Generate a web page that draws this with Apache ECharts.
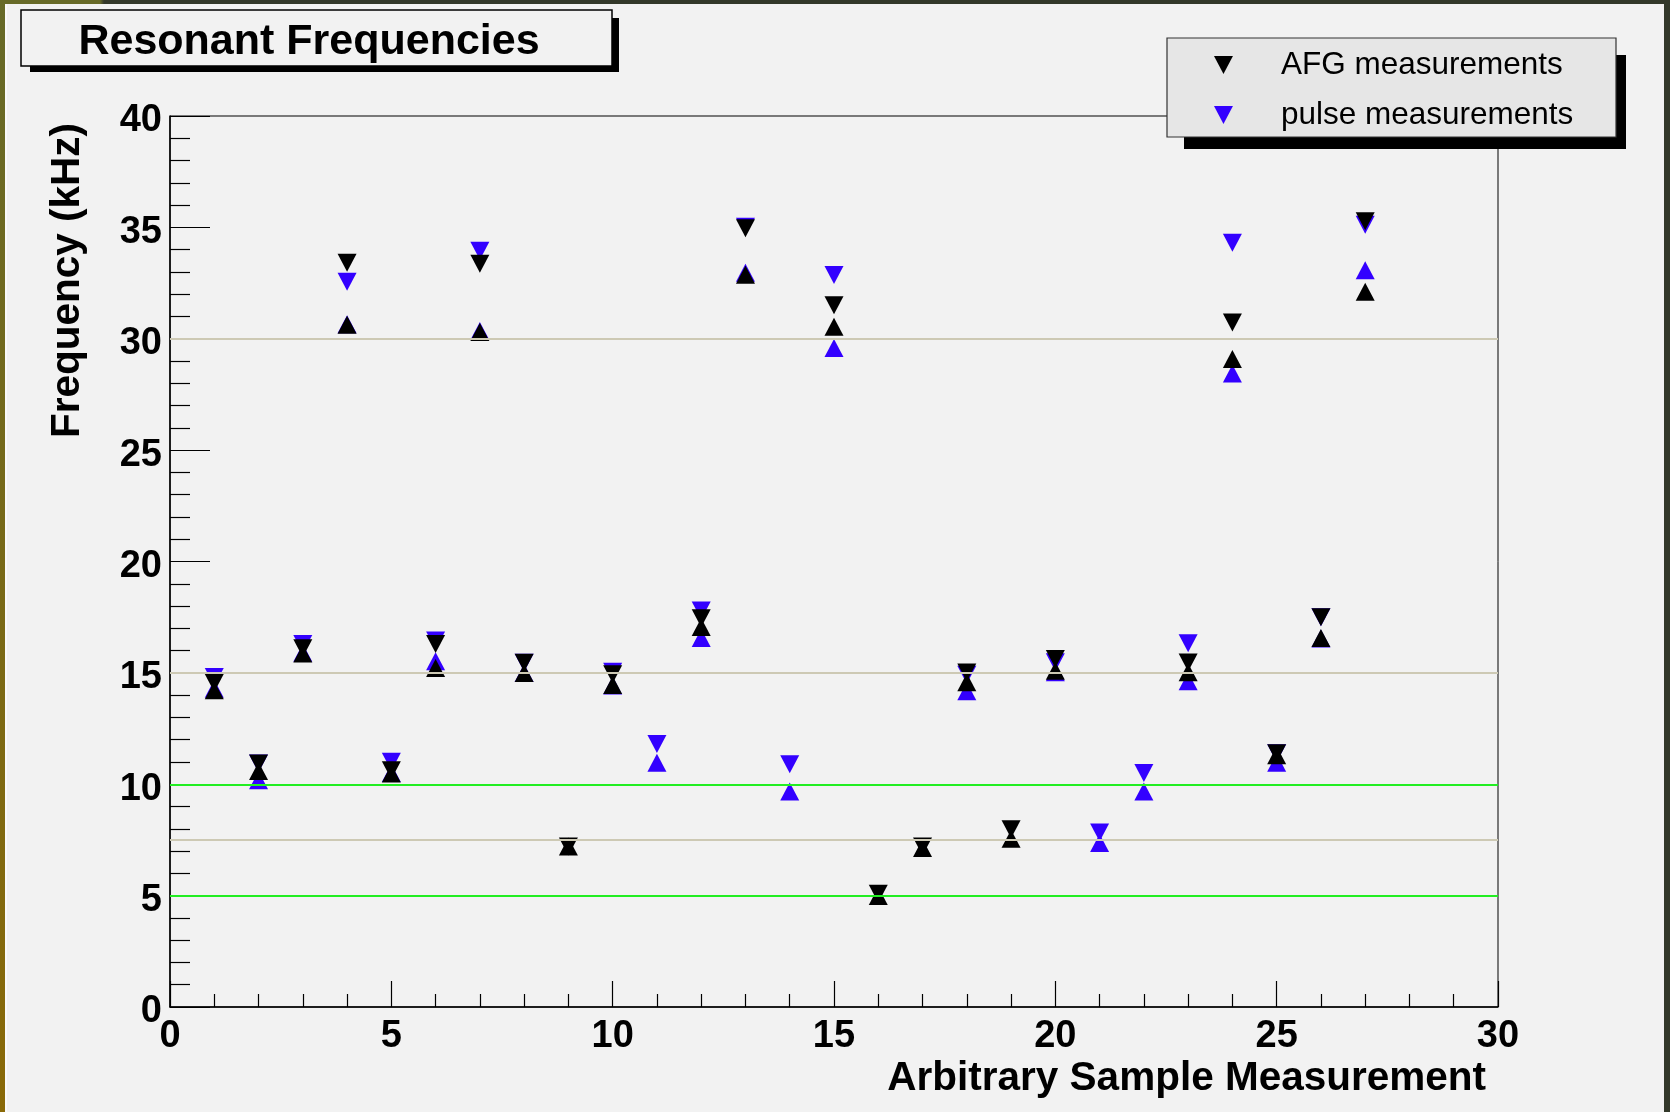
<!DOCTYPE html>
<html><head><meta charset="utf-8">
<script src="https://cdn.jsdelivr.net/npm/echarts@6/dist/echarts.min.js"></script>
<style>
html,body{margin:0;padding:0;background:#f2f2f2;}
#wrap{position:relative;width:1670px;height:1112px;overflow:hidden;}
#chart{position:absolute;left:0;top:0;width:1670px;height:1112px;}
.b{position:absolute;z-index:5;}
</style></head><body>
<div id="wrap"><div id="chart"></div>
<div class="b" style="left:0;top:0;width:1670px;height:4px;background:linear-gradient(90deg,#676a28 0,#676a28 100px,#33382a 104px,#33382a 100%);"></div>
<div class="b" style="left:0;top:0;width:5px;height:1112px;background:linear-gradient(#676a28,#8a6a08);"></div>
<div class="b" style="left:5px;top:4px;width:2px;height:1108px;background:#fafafa;"></div>
<div class="b" style="right:0;top:0;width:6px;height:1112px;background:#33382a;"></div>
</div>
<script>
const samples   = [1,2,3,4,5,6,7,8,9,10,11,12,13,14,15,16,17,18,19,20,21,22,23,24,25,26,27];
const afgHigh   = [14.55,10.93,16.10,33.41,10.63,16.30,33.37,15.45,7.21,14.94,null,17.45,34.96,null,31.50,5.08,7.20,15.02,7.98,15.62,null,null,15.47,30.73,11.39,17.50,35.28];
const afgLow    = [14.22,10.60,15.87,30.63,10.48,15.22,30.30,15.00,7.21,14.46,null,17.06,32.87,null,30.54,4.98,7.14,14.58,7.55,15.10,null,null,15.03,29.09,11.30,16.57,32.11];
const pulseHigh = [14.82,10.93,16.30,32.56,11.01,16.45,33.95,15.45,null,15.05,11.81,17.80,35.03,10.90,32.86,null,null,14.92,null,15.48,7.83,10.50,16.33,34.31,11.39,17.50,35.12];
const pulseLow  = [14.29,10.18,15.90,30.65,10.50,15.52,30.35,15.00,null,14.43,10.96,16.57,32.96,9.67,29.58,null,null,14.17,null,15.03,7.36,9.68,14.62,28.44,10.96,16.54,33.08];
const refLinesTan   = [30, 15, 7.5];
const refLinesGreen = [10, 5];
const xTicks = [0,5,10,15,20,25,30];
const yTicks = [0,5,10,15,20,25,30,35,40];

const FONT = 'Liberation Sans, Arial, Helvetica, sans-serif';
const BLUE = '#3300ff';
function pairs(arr){ return samples.map((x,i)=> arr[i]==null ? null : [x, arr[i]]).filter(Boolean); }
const downIcon = 'path://M0,0L20,0L10,19Z';

const chart = echarts.init(document.getElementById('chart'), null, {renderer:'canvas'});
const axisCommon = {
  type:'value',
  axisLine:{show:true, onZero:false, lineStyle:{color:'#000', width:1.5}},
  splitLine:{show:false}, minorSplitLine:{show:false},
};
const markLineData = refLinesTan.map(v=>({yAxis:v, lineStyle:{color:'#cdc9b4', width:2, type:'solid'}}))
  .concat(refLinesGreen.map(v=>({yAxis:v, lineStyle:{color:'#22ee22', width:2, type:'solid'}})));

chart.setOption({
  backgroundColor:'#f2f2f2',
  animation:false,
  grid:{left:170, top:116, width:1328, height:891, show:true, borderColor:'#000', borderWidth:1, backgroundColor:'transparent'},
  xAxis:Object.assign({}, axisCommon, {
    min:xTicks[0], max:xTicks[xTicks.length-1], interval:5,
    axisTick:{show:true, inside:true, length:26, lineStyle:{color:'#000', width:1.2}},
    minorTick:{show:true, splitNumber:5, length:13, lineStyle:{color:'#000', width:1.2}},
    axisLabel:{show:true, margin:11, color:'#000', fontFamily:FONT, fontWeight:'bold', fontSize:38, showMinLabel:true, showMaxLabel:true}
  }),
  yAxis:Object.assign({}, axisCommon, {
    min:yTicks[0], max:yTicks[yTicks.length-1], interval:5,
    axisTick:{show:true, inside:true, length:40, lineStyle:{color:'#000', width:1.2}},
    minorTick:{show:true, splitNumber:5, length:20, lineStyle:{color:'#000', width:1.2}},
    axisLabel:{show:true, margin:8, color:'#000', showMinLabel:true, showMaxLabel:true,
      formatter:function(v){ return '{t|' + v + '}'; },
      rich:{t:{fontFamily:FONT, fontWeight:'bold', fontSize:38, color:'#000', padding:[10,0,0,0]}}}
  }),
  legend:{
    data:[{name:'AFG measurements', icon:downIcon},{name:'pulse measurements', icon:downIcon}],
    orient:'vertical', left:1209, top:44, itemWidth:19, itemHeight:18, itemGap:18,
    selectedMode:false, z:20,
    textStyle:{fontFamily:FONT, fontSize:31.5, color:'#000', padding:[0,0,0,43]}
  },
  graphic:[
    {type:'rect', z:10, shape:{x:30, y:18, width:589, height:54}, style:{fill:'#000'}},
    {type:'rect', z:11, shape:{x:21, y:10, width:591, height:56}, style:{fill:'#f2f2f2', stroke:'#000', lineWidth:1.5}},
    {type:'text', z:12, x:309, y:42, style:{text:'Resonant Frequencies', font:'bold 43px '+FONT, fill:'#000', align:'center', verticalAlign:'middle'}},
    {type:'rect', z:10, shape:{x:1184, y:55, width:442, height:94}, style:{fill:'#000'}},
    {type:'rect', z:11, shape:{x:1167, y:38, width:449, height:99}, style:{fill:'#e6e6e6', stroke:'#333', lineWidth:1.2}},
    {type:'text', z:12, x:1486, y:1079, style:{text:'Arbitrary Sample Measurement', font:'bold 40.5px '+FONT, fill:'#000', align:'right', verticalAlign:'middle'}},
    {type:'text', z:12, x:68, y:123, rotation:Math.PI/2, style:{text:'Frequency (kHz)', font:'bold 40.5px '+FONT, fill:'#000', align:'right', verticalAlign:'middle'}}
  ],
  series:[
    {type:'line', name:'refs', data:[], z:1, silent:true,
     markLine:{silent:true, symbol:['none','none'], label:{show:false}, data:markLineData, animation:false}},
    {type:'scatter', name:'pulse measurements', data:pairs(pulseHigh), symbol:'triangle', symbolRotate:180, symbolSize:[19,18], itemStyle:{color:BLUE, opacity:1}, z:3},
    {type:'scatter', name:'pulse lower', data:pairs(pulseLow), symbol:'triangle', symbolSize:[19,18], itemStyle:{color:BLUE, opacity:1}, z:3},
    {type:'scatter', name:'AFG measurements', data:pairs(afgHigh), symbol:'triangle', symbolRotate:180, symbolSize:[19,18], itemStyle:{color:'#000', opacity:1}, z:4},
    {type:'scatter', name:'AFG lower', data:pairs(afgLow), symbol:'triangle', symbolSize:[19,18], itemStyle:{color:'#000', opacity:1}, z:4}
  ]
});
</script>
</body></html>
